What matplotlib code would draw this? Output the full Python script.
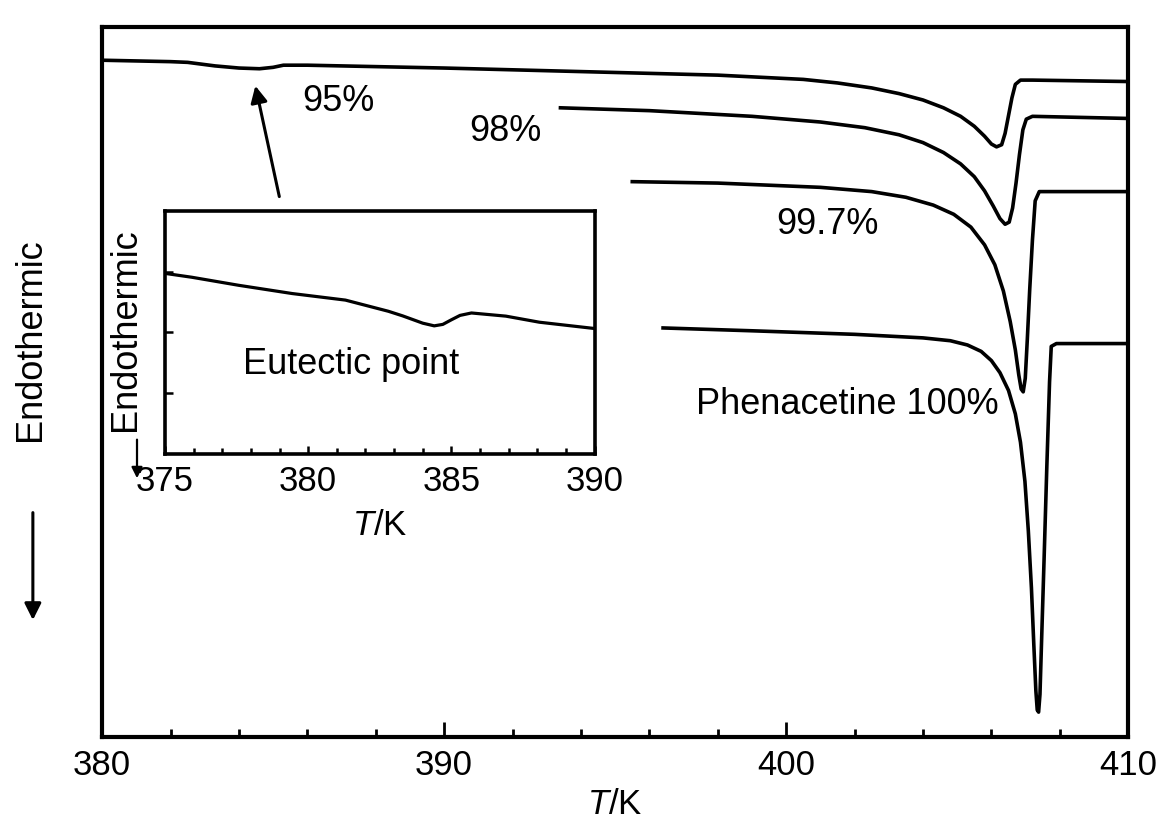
import numpy as np
import matplotlib
matplotlib.use('Agg')
import matplotlib.pyplot as plt
from matplotlib.ticker import MultipleLocator

plt.rcParams['font.family'] = 'Liberation Sans'
plt.rcParams['mathtext.fontset'] = 'custom'
plt.rcParams['mathtext.it'] = 'Liberation Sans:italic'
plt.rcParams['mathtext.rm'] = 'Liberation Sans'

# DSC traces (T in K, signal in arbitrary units, endothermic down)
t_95 = [380, 382, 382.5, 383.3, 384, 384.6, 385.0, 385.3, 386, 390, 394, 398, 400.5,
        401.5, 402.5, 403.3, 404.0, 404.6, 405.1, 405.5, 405.8, 406.0, 406.15, 406.3,
        406.4, 406.5, 406.6, 406.7, 406.85, 407.2, 410]
y_95 = [95.3, 95.1, 95.0, 94.5, 94.2, 94.1, 94.3, 94.6, 94.6, 94.2, 93.7, 93.2, 92.6,
        92.1, 91.4, 90.6, 89.7, 88.6, 87.4, 86.0, 84.6, 83.5, 83.1, 83.4,
        85.0, 87.5, 90.0, 91.9, 92.5, 92.5, 92.3]

t_98 = [393.4, 396, 399, 401, 402.3, 403.3, 404.0, 404.6, 405.1, 405.5, 405.8, 406.05,
        406.25, 406.4, 406.52, 406.62, 406.72, 406.82, 406.92, 407.02, 407.2, 410]
y_98 = [88.6, 88.2, 87.4, 86.6, 85.8, 84.8, 83.7, 82.3, 80.7, 78.9, 76.9, 74.8,
        73.0, 72.2, 72.5, 74.5, 78.0, 82.0, 85.5, 87.0, 87.4, 87.1]

t_997 = [395.5, 398, 401, 402.5, 403.5, 404.3, 404.9, 405.4, 405.8, 406.1, 406.35,
         406.55, 406.7, 406.8, 406.87, 406.93, 406.99, 407.05, 407.12, 407.2, 407.28,
         407.4, 410]
y_997 = [78.2, 78.0, 77.4, 76.8, 76.0, 74.9, 73.6, 71.8, 69.3, 66.5, 62.8,
         58.5, 54.5, 51.0, 49.0, 48.6, 50.5, 56.0, 63.0, 70.0, 75.5,
         76.8, 76.8]

t_100 = [396.4, 399, 402, 404, 404.8, 405.3, 405.7, 406.0, 406.25, 406.5, 406.7, 406.85,
         406.98, 407.08, 407.17, 407.24, 407.3, 407.34, 407.38, 407.42, 407.47, 407.54,
         407.62, 407.7, 407.75, 407.9, 410]
y_100 = [57.6, 57.2, 56.7, 56.2, 55.8, 55.2, 54.3, 53.0, 51.3, 48.8, 45.5, 41.5,
         36.0, 29.0, 21.0, 13.0, 6.5, 3.8, 3.5, 6.0, 14.0, 25.0,
         38.0, 50.0, 55.0, 55.4, 55.4]

# inset: 95% sample around the eutectic point
t_ins = [375, 375.94, 377.57, 379.44, 381.3, 382.8, 383.3, 384.0, 384.4, 384.7,
         385.0, 385.3, 385.7, 386.9, 388.07, 390]
y_ins = [74.3, 72.7, 69.4, 66.0, 63.3, 58.7, 56.8, 53.8, 52.7, 53.3,
         55.2, 57.0, 58.0, 56.7, 54.2, 51.6]

fs = 26

fig = plt.figure(figsize=(11.74, 8.39), dpi=100)
ax = fig.add_axes([0.087, 0.1216, 0.874, 0.8464])
for t, y in [(t_95, y_95), (t_98, y_98), (t_997, y_997), (t_100, y_100)]:
    ax.plot(t, y, color='black', lw=2.6, solid_joinstyle='round')
ax.set_xlim(380, 410)
ax.set_ylim(0, 100)
ax.set_xticks([380, 390, 400, 410])
ax.xaxis.set_minor_locator(MultipleLocator(2))
ax.set_yticks([])
ax.tick_params(axis='x', which='both', direction='in', labelsize=25, pad=9, width=2)
ax.tick_params(axis='x', which='major', length=11)
ax.tick_params(axis='x', which='minor', length=6)
for s in ax.spines.values():
    s.set_linewidth(3)
ax.set_xlabel('$T$/K', fontsize=25, labelpad=4)

ax.text(386.9, 89.5, '95%', ha='center', va='center', fontsize=fs)
ax.text(391.8, 85.3, '98%', ha='center', va='center', fontsize=fs)
ax.text(401.2, 72.1, '99.7%', ha='center', va='center', fontsize=fs)
ax.text(401.8, 46.8, 'Phenacetine 100%', ha='center', va='center', fontsize=fs)
ax.annotate('', xy=(384.48, 91.7), xytext=(385.18, 76.1),
            arrowprops=dict(arrowstyle='-|>', color='black', lw=2.2, mutation_scale=25,
                            shrinkA=0, shrinkB=0))

fig.text(0.0256, 0.595, 'Endothermic', rotation=90, ha='center', va='center', fontsize=fs)
ax.annotate('', xy=(0.028, 0.261), xytext=(0.028, 0.389), xycoords='figure fraction',
            textcoords='figure fraction',
            arrowprops=dict(arrowstyle='-|>', color='black', lw=2.2, mutation_scale=25,
                            shrinkA=0, shrinkB=0))

# inset
ins = fig.add_axes([0.1405, 0.459, 0.366, 0.2896])
ins.plot(t_ins, y_ins, color='black', lw=2.3, solid_joinstyle='round')
ins.set_xlim(375, 390)
ins.set_ylim(0, 100)
ins.set_xticks([375, 380, 385, 390])
ins.xaxis.set_minor_locator(MultipleLocator(1))
ins.set_yticks([25, 50, 75])
ins.set_yticklabels([])
ins.tick_params(axis='both', which='both', direction='in', labelsize=25, pad=8, width=1.8)
ins.tick_params(axis='both', which='major', length=6)
ins.tick_params(axis='x', which='minor', length=4)
for s in ins.spines.values():
    s.set_linewidth(2.6)
ins.set_xlabel('$T$/K', fontsize=25, labelpad=8)
ins.text(381.5, 36.6, 'Eutectic point', ha='center', va='center', fontsize=fs)

fig.text(0.1065, 0.607, 'Endothermic', rotation=90, ha='center', va='center', fontsize=fs)
ax.annotate('', xy=(0.1167, 0.430), xytext=(0.1167, 0.476), xycoords='figure fraction',
            textcoords='figure fraction',
            arrowprops=dict(arrowstyle='-|>', color='black', lw=1.6, mutation_scale=16,
                            shrinkA=0, shrinkB=0))

fig.savefig('out.png', dpi=100)
